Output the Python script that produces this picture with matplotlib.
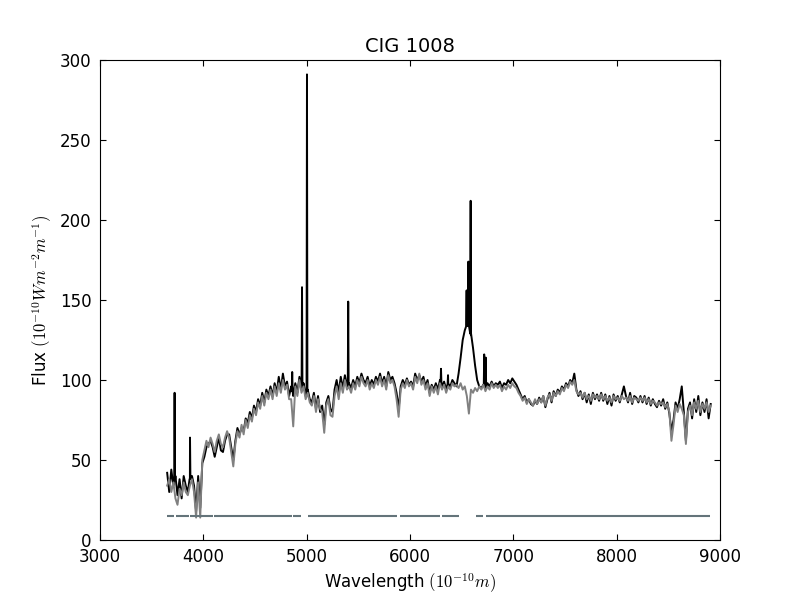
import numpy as np
import matplotlib
matplotlib.use("Agg")
import matplotlib.pyplot as plt

# wavelength grid of the spectrum (20 A steps, 3650 -> 8910)
wave_start = 3650
wave_step = 20

# fitted model (grey), 10 values per 200 A
model_flux = [
    34, 38, 30, 36, 26, 22, 32, 28, 36, 30,
    28, 34, 38, 30, 14, 36, 14, 50, 56, 62,
    58, 64, 60, 55, 62, 66, 60, 58, 64, 68,
    64, 55, 46, 60, 68, 64, 72, 66, 75, 70,
    78, 74, 82, 78, 86, 82, 90, 84, 92, 88,
    94, 88, 96, 90, 98, 92, 100, 94, 97, 88,
    88, 71, 96, 90, 100, 92, 96, 88, 92, 86,
    84, 90, 80, 88, 82, 80, 67, 84, 88, 78,
    77, 90, 96, 88, 98, 92, 100, 94, 96, 92,
    98, 94, 100, 96, 102, 98, 96, 100, 94, 98,
    95, 100, 97, 102, 96, 100, 94, 103, 98, 100,
    96, 88, 77, 94, 98, 95, 100, 96, 98, 94,
    102, 98, 104, 97, 100, 94, 98, 90, 96, 92,
    96, 91, 98, 94, 97, 92, 96, 94, 98, 96,
    97, 95, 98, 94, 96, 90, 79, 94, 92, 95,
    93, 96, 94, 97, 93, 96, 94, 98, 95, 97,
    95, 97, 93, 96, 94, 97, 95, 98, 96, 95,
    92, 90, 87, 89, 85, 88, 86, 84, 88, 85,
    88, 86, 90, 84, 89, 91, 87, 92, 90, 93,
    91, 95, 93, 97, 95, 99, 97, 100, 93, 91,
    92, 89, 92, 88, 90, 87, 91, 89, 90, 88,
    91, 88, 90, 87, 89, 86, 90, 88, 89, 87,
    90, 88, 89, 87, 90, 86, 89, 88, 87, 89,
    87, 89, 86, 88, 85, 87, 86, 84, 86, 85,
    86, 83, 85, 80, 62, 72, 84, 80, 85, 82,
    78, 60, 80, 84, 78, 86, 82, 87, 80, 85,
    82, 86, 80, 84,
]

# observed continuum (black)
obs_flux = [
    42, 30, 44, 34, 40, 28, 38, 26, 40, 34,
    30, 38, 40, 34, 18, 40, 20, 48, 52, 58,
    60, 62, 58, 52, 58, 64, 56, 55, 62, 66,
    66, 58, 50, 62, 70, 66, 70, 68, 76, 73,
    80, 76, 84, 80, 88, 84, 92, 86, 94, 90,
    96, 90, 98, 92, 102, 94, 104, 96, 99, 90,
    96, 90, 98, 92, 102, 94, 98, 90, 94, 88,
    86, 92, 82, 90, 80, 84, 72, 86, 90, 82,
    80, 94, 100, 92, 102, 95, 103, 96, 98, 95,
    100, 96, 102, 98, 104, 100, 98, 102, 96, 100,
    97, 102, 99, 104, 98, 102, 96, 105, 100, 102,
    98, 92, 82, 96, 100, 97, 101, 97, 99, 96,
    104, 100, 103, 99, 102, 96, 100, 92, 97, 94,
    98, 94, 100, 96, 99, 94, 98, 96, 100, 98,
    96, 104, 114, 125, 131, 134, 134, 128, 120, 109,
    100, 96, 95, 97, 95, 98, 96, 99, 96, 98,
    97, 99, 95, 98, 97, 100, 98, 101, 99, 97,
    94, 91, 88, 90, 86, 88, 85, 84, 87, 85,
    89, 86, 90, 83, 88, 92, 86, 93, 90, 94,
    92, 96, 94, 98, 96, 100, 98, 104, 94, 90,
    93, 88, 92, 86, 91, 85, 92, 88, 91, 87,
    92, 87, 91, 85, 90, 84, 91, 87, 90, 86,
    91, 96, 90, 86, 92, 85, 90, 89, 86, 90,
    86, 90, 85, 89, 84, 88, 85, 83, 87, 84,
    88, 82, 86, 79, 68, 75, 86, 82, 88, 96,
    80, 62, 82, 86, 76, 88, 80, 90, 78, 86,
    80, 88, 76, 85,
]

# narrow emission lines in the observed spectrum
line_wave = [3722, 3871, 4860, 4955, 5003, 5402, 6300, 6368, 6548, 6565, 6587, 6718, 6733]
line_peak = [92, 64, 105, 158, 291, 149, 107, 103, 156, 174, 212, 116, 114]

# good-pixel mask drawn at flux 15
mask_start = [3650, 3738, 3872, 4105, 4865, 5015, 5900, 6312, 6640, 6738]
mask_end = [3716, 3858, 4090, 4855, 4942, 5870, 6290, 6474, 6703, 8905]
mask_level = 15

wave = wave_start + wave_step * np.arange(len(model_flux))

# put the lines into the observed spectrum
lw_ = []
lf_ = []
for w, p in zip(line_wave, line_peak):
    base = np.interp(w, wave, obs_flux)
    lw_ += [w - 4, w, w + 4]
    lf_ += [base, p, base]
obs_w = np.concatenate([wave, lw_])
obs_f = np.concatenate([obs_flux, lf_])
order = np.argsort(obs_w, kind="stable")
obs_w = obs_w[order]
obs_f = obs_f[order]

plt.rcParams['font.size'] = 12
plt.rcParams['mathtext.fontset'] = 'cm'
plt.rcParams['xtick.direction'] = 'in'
plt.rcParams['ytick.direction'] = 'in'
plt.rcParams['xtick.top'] = True
plt.rcParams['ytick.right'] = True
plt.rcParams['xtick.major.size'] = 4
plt.rcParams['ytick.major.size'] = 4
plt.rcParams['xtick.major.pad'] = 6
plt.rcParams['ytick.major.pad'] = 6

fig = plt.figure(figsize=(8, 6), dpi=100)
ax = fig.add_axes([0.125, 0.1, 0.775, 0.8])
ax.plot(obs_w, obs_f, color='k', lw=1.4)
ax.plot(wave, model_flux, color='0.5', lw=1.4)
ax.hlines([mask_level] * len(mask_start), mask_start, mask_end, color='#64747a', lw=1.5)

ax.set_xlim(3000, 9000)
ax.set_ylim(0, 300)
ax.set_xticks(range(3000, 9001, 1000))
ax.set_yticks(range(0, 301, 50))
ax.set_title('CIG 1008', fontsize=14)
ax.set_xlabel(r'Wavelength $(10^{-10}m)$')
ax.set_ylabel(r'Flux $(10^{-10}Wm^{-2}m^{-1})$')

fig.savefig('out.png', dpi=100)
